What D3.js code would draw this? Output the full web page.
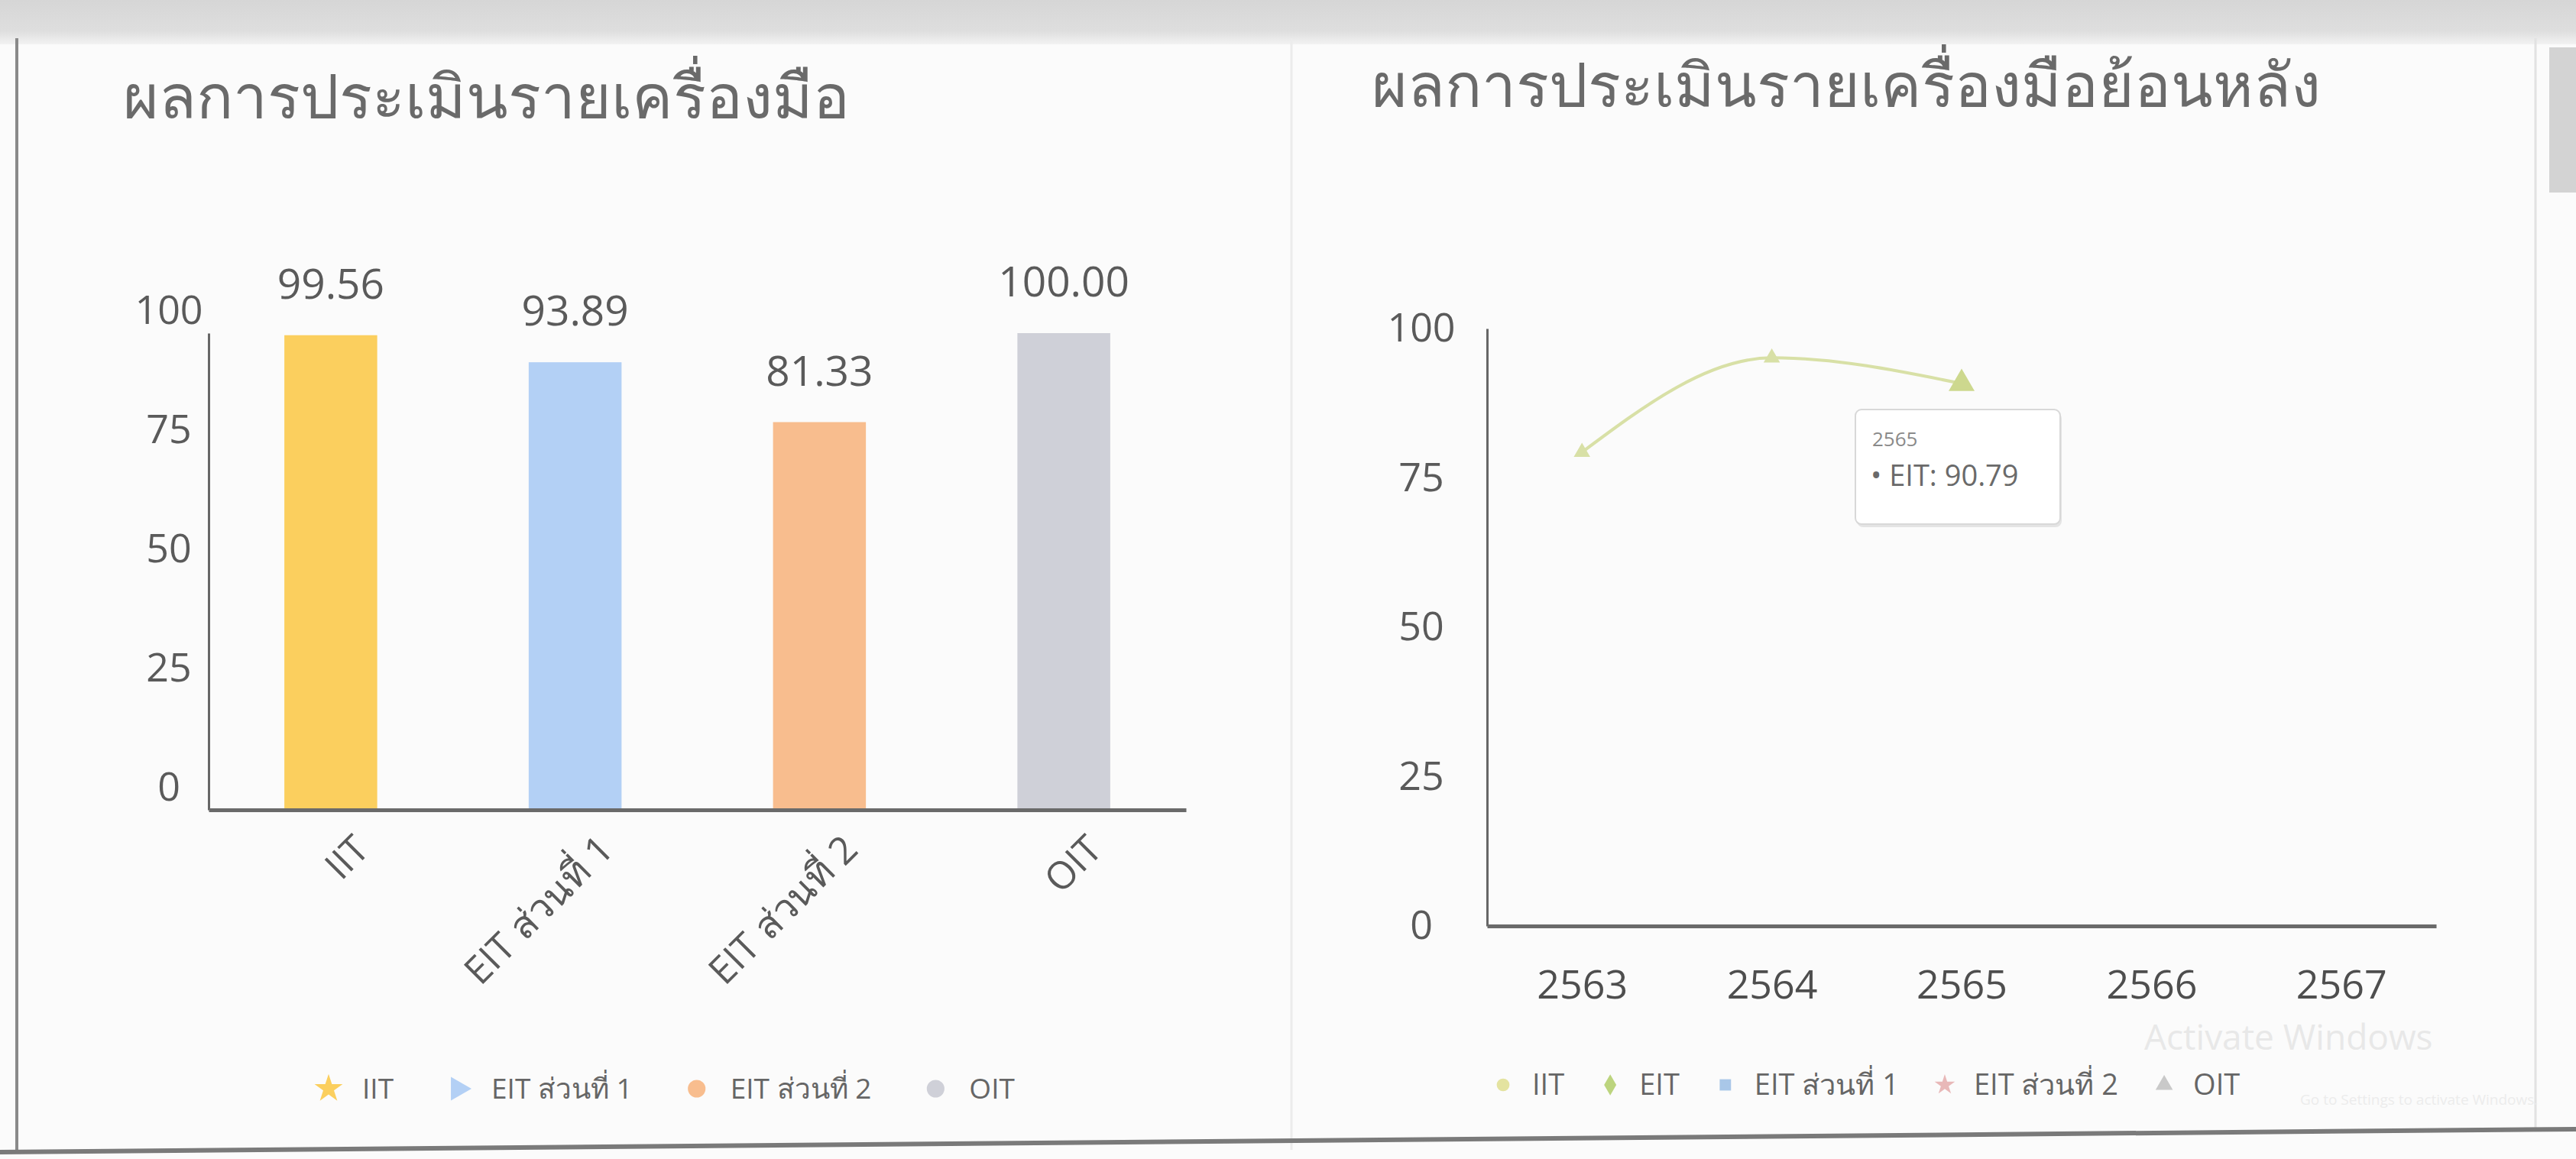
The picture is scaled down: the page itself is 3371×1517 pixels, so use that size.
<!DOCTYPE html>
<html>
<head>
<meta charset="utf-8">
<script src="https://cdn.jsdelivr.net/npm/d3@7.9.0/dist/d3.min.js"></script>
<style>
  body { margin: 0; background: #f6f6f6; }
  svg { display: block; font-family: "Open Sans", "Noto Sans", sans-serif; }
</style>
</head>
<body>
<svg id="chart" width="3371" height="1517"></svg>
<script>
// bar chart: score per tool
const toolNames = ['IIT', 'EIT ส่วนที่ 1', 'EIT ส่วนที่ 2', 'OIT'];
const toolScores = [99.56, 93.89, 81.33, 100.00];
const toolColors = ['#fbcf5e', '#b3d0f5', '#f8bd8e', '#cfd0d8'];
const toolSymbols = [d3.symbolStar, d3.symbolTriangle, d3.symbolCircle, d3.symbolCircle];
const scoreTicks = [0, 25, 50, 75, 100];

// line chart: history per year (only EIT has values)
const years = ['2563', '2564', '2565', '2566', '2567'];
const eitHistory = [79.3, 95.1, 90.79];
const historySeries = ['IIT', 'EIT', 'EIT ส่วนที่ 1', 'EIT ส่วนที่ 2', 'OIT'];
const historyColors = ['#e4e3a0', '#bcd47e', '#a9c7e8', '#e8b8b8', '#c9c9c9'];
const historySymbols = [d3.symbolCircle, d3.symbolDiamond, d3.symbolSquare, d3.symbolStar, d3.symbolTriangle];
const hoverYear = '2565';

const svg = d3.select('#chart');

// page background, top bar, panel frames
svg.append('rect').attr('width', 3371).attr('height', 1517).attr('fill', '#fbfbfb');
const topGrad = svg.append('defs').append('linearGradient')
  .attr('id', 'topGrad').attr('x1', 0).attr('x2', 0).attr('y1', 0).attr('y2', 1);
topGrad.append('stop').attr('offset', 0).attr('stop-color', '#d6d6d6');
topGrad.append('stop').attr('offset', 0.7).attr('stop-color', '#dedede');
topGrad.append('stop').attr('offset', 1).attr('stop-color', '#f2f2f2');
svg.append('rect').attr('width', 3371).attr('height', 58).attr('fill', 'url(#topGrad)');
svg.append('line').attr('x1', 22).attr('x2', 22).attr('y1', 50).attr('y2', 1510)
  .attr('stroke', '#8a8a8a').attr('stroke-width', 4);
svg.append('line').attr('x1', 1690).attr('x2', 1690).attr('y1', 50).attr('y2', 1505)
  .attr('stroke', '#ececec').attr('stroke-width', 3);
svg.append('line').attr('x1', 3318).attr('x2', 3318).attr('y1', 50).attr('y2', 1480)
  .attr('stroke', '#e2e2e2').attr('stroke-width', 3);
svg.append('rect').attr('x', 3336).attr('y', 62).attr('width', 35).attr('height', 190)
  .attr('fill', '#d3d3d3');
svg.append('line').attr('x1', 0).attr('x2', 3371).attr('y1', 1508).attr('y2', 1478)
  .attr('stroke', '#7a7a7a').attr('stroke-width', 6);

// titles
svg.append('text').attr('x', 161).attr('y', 155)
  .attr('font-size', 80).attr('fill', '#6a6a6a')
  .text('ผลการประเมินรายเครื่องมือ');
svg.append('text').attr('x', 1795).attr('y', 140)
  .attr('font-size', 80).attr('fill', '#6a6a6a')
  .text('ผลการประเมินรายเครื่องมือย้อนหลัง');

function drawLegend(g, names, colors, symbols, x0, y, fontSize, textOffset, gap, symSize, rotateTri) {
  let x = x0;
  names.forEach((name, i) => {
    g.append('path')
      .attr('d', d3.symbol(symbols[i], symSize)())
      .attr('transform', `translate(${x},${y})` + (rotateTri && symbols[i] === d3.symbolTriangle ? ' rotate(90)' : ''))
      .attr('fill', colors[i]);
    const t = g.append('text')
      .attr('x', x + textOffset).attr('y', y)
      .attr('dy', '0.35em')
      .attr('font-size', fontSize).attr('fill', '#666')
      .text(name);
    x += textOffset + t.node().getComputedTextLength() + gap;
  });
}

// ---- left: bar chart ----
const barG = svg.append('g');
const yL = d3.scaleLinear().domain([0, 100]).range([1060, 436]);
const xL = d3.scaleBand().domain(toolNames).range([273, 1552])
  .paddingInner(0.62).paddingOuter(0.31);

barG.selectAll('rect.bar')
  .data(toolNames)
  .join('rect')
    .attr('class', 'bar')
    .attr('x', d => xL(d))
    .attr('y', (d, i) => yL(toolScores[i]))
    .attr('width', xL.bandwidth())
    .attr('height', (d, i) => yL(0) - yL(toolScores[i]))
    .attr('fill', (d, i) => toolColors[i]);

barG.selectAll('text.val')
  .data(toolNames)
  .join('text')
    .attr('class', 'val')
    .attr('x', d => xL(d) + xL.bandwidth() / 2)
    .attr('y', (d, i) => yL(toolScores[i]) - 48)
    .attr('text-anchor', 'middle')
    .attr('font-size', 55).attr('fill', '#5a5a5a')
    .text((d, i) => toolScores[i].toFixed(2));

const yAxisL = barG.append('g')
  .attr('transform', 'translate(273,0)')
  .call(d3.axisLeft(yL).tickValues(scoreTicks).tickSize(0).tickPadding(52))
  .attr('font-family', null);
yAxisL.select('.domain').attr('stroke', '#666').attr('stroke-width', 3);
yAxisL.selectAll('text')
  .attr('font-size', 52).attr('fill', '#5a5a5a')
  .attr('text-anchor', 'middle').attr('dy', '-0.25em');

const xAxisL = barG.append('g')
  .attr('transform', 'translate(0,1060)')
  .call(d3.axisBottom(xL).tickSize(0).tickPadding(0))
  .attr('font-family', null);
xAxisL.select('.domain').attr('stroke', '#6a6a6a').attr('stroke-width', 5);
xAxisL.selectAll('text')
  .attr('font-size', 50).attr('fill', '#5a5a5a')
  .attr('text-anchor', 'end')
  .attr('transform', 'translate(28,30) rotate(-45)')
  .attr('dy', '0.7em');

drawLegend(svg.append('g'), toolNames, toolColors, toolSymbols, 430, 1425, 37, 44, 84, 420, true);

// ---- right: line chart ----
const lineG = svg.append('g');
const yR = d3.scaleLinear().domain([0, 100]).range([1212, 430]);
const xR = d3.scalePoint().domain(years).range([1946, 3188]).padding(0.5);

const yAxisR = lineG.append('g')
  .attr('transform', 'translate(1946,0)')
  .call(d3.axisLeft(yR).tickValues(scoreTicks).tickSize(0).tickPadding(86))
  .attr('font-family', null);
yAxisR.select('.domain').attr('stroke', '#666').attr('stroke-width', 3);
yAxisR.selectAll('text')
  .attr('font-size', 52).attr('fill', '#5a5a5a')
  .attr('text-anchor', 'middle');

const xAxisR = lineG.append('g')
  .attr('transform', 'translate(0,1212)')
  .call(d3.axisBottom(xR).tickSize(0).tickPadding(58))
  .attr('font-family', null);
xAxisR.select('.domain').attr('stroke', '#6a6a6a').attr('stroke-width', 5);
xAxisR.selectAll('text')
  .attr('font-size', 52).attr('fill', '#4e4e4e');

const eitPoints = eitHistory.map((v, i) => [years[i], v]);
lineG.append('path')
  .datum(eitPoints)
  .attr('fill', 'none')
  .attr('stroke', '#d8e0a6')
  .attr('stroke-width', 4)
  .attr('d', d3.line().x(d => xR(d[0])).y(d => yR(d[1])).curve(d3.curveMonotoneX));

lineG.selectAll('path.pt')
  .data(eitPoints)
  .join('path')
    .attr('class', 'pt')
    .attr('d', d => d3.symbol(d3.symbolTriangle, d[0] === hoverYear ? 500 : 200)())
    .attr('transform', d => `translate(${xR(d[0])},${yR(d[1])})`)
    .attr('fill', d => d[0] === hoverYear ? '#cdd88e' : '#d8e0a6');

// tooltip at hovered year
const hv = eitPoints.find(d => d[0] === hoverYear);
const tip = lineG.append('g').attr('transform', `translate(${xR(hv[0]) - 139},${yR(hv[1]) + 34})`);
tip.append('rect').attr('x', 2).attr('y', 4).attr('width', 268).attr('height', 150).attr('rx', 8)
  .attr('fill', '#e4e4e4');
tip.append('rect').attr('width', 268).attr('height', 150).attr('rx', 8)
  .attr('fill', '#fff').attr('stroke', '#d8d8d8').attr('stroke-width', 2);
tip.append('text').attr('x', 22).attr('y', 48).attr('font-size', 26).attr('fill', '#8a8a8a')
  .text(hv[0]);
tip.append('text').attr('x', 20).attr('y', 100).attr('font-size', 38).attr('fill', '#6a6a6a')
  .text(`• EIT: ${hv[1].toFixed(2)}`);

drawLegend(svg.append('g'), historySeries, historyColors, historySymbols, 1967, 1420, 38, 38, 60, 220, false);

// windows watermark
svg.append('text').attr('x', 2806).attr('y', 1374)
  .attr('font-size', 46).attr('fill', '#e8e8e8')
  .text('Activate Windows');
svg.append('text').attr('x', 3010).attr('y', 1446)
  .attr('font-size', 19).attr('fill', '#ececec')
  .text('Go to Settings to activate Windows.');
</script>
</body>
</html>
